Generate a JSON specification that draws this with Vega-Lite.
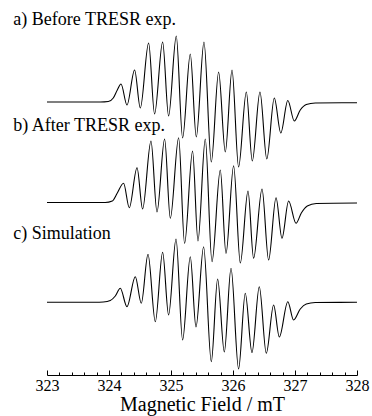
{
  "$schema": "https://vega.github.io/schema/vega-lite/v6.json",
  "width": 310,
  "height": 360,
  "autosize": "none",
  "padding": {"left": 47, "right": 15, "top": 15, "bottom": 41},
  "background": "white",
  "config": {"view": {"stroke": null}, "font": "Liberation Serif"},
  "datasets": {
    "spectra": [
      {"s":"a","B":323.000,"I":273},{"s":"a","B":323.860,"I":273},{"s":"a","B":323.989,"I":273.5},{"s":"a","B":324.069,"I":277},{"s":"a","B":324.134,"I":285},
      {"s":"a","B":324.194,"I":291},{"s":"a","B":324.290,"I":270},{"s":"a","B":324.413,"I":305},{"s":"a","B":324.505,"I":267},{"s":"a","B":324.639,"I":332},
      {"s":"a","B":324.735,"I":261},{"s":"a","B":324.865,"I":333},{"s":"a","B":324.961,"I":259},{"s":"a","B":325.085,"I":339},{"s":"a","B":325.187,"I":237},
      {"s":"a","B":325.311,"I":321},{"s":"a","B":325.408,"I":238},{"s":"a","B":325.532,"I":333},{"s":"a","B":325.650,"I":213},{"s":"a","B":325.768,"I":303},
      {"s":"a","B":325.876,"I":223},{"s":"a","B":325.984,"I":305},{"s":"a","B":326.090,"I":208},{"s":"a","B":326.215,"I":283},{"s":"a","B":326.311,"I":214},
      {"s":"a","B":326.435,"I":283},{"s":"a","B":326.545,"I":216},{"s":"a","B":326.666,"I":277},{"s":"a","B":326.771,"I":242},{"s":"a","B":326.884,"I":274.5},
      {"s":"a","B":326.989,"I":254},{"s":"a","B":327.085,"I":265},{"s":"a","B":327.182,"I":270.5},{"s":"a","B":327.327,"I":272},{"s":"a","B":328.000,"I":272.3},

      {"s":"b","B":323.000,"I":172.5},{"s":"b","B":323.940,"I":172.5},{"s":"b","B":324.053,"I":174},{"s":"b","B":324.134,"I":182},
      {"s":"b","B":324.235,"I":191.7},{"s":"b","B":324.327,"I":167.3},{"s":"b","B":324.452,"I":207.3},{"s":"b","B":324.542,"I":166},{"s":"b","B":324.677,"I":234},
      {"s":"b","B":324.774,"I":163},{"s":"b","B":324.897,"I":236},{"s":"b","B":324.989,"I":156.7},{"s":"b","B":325.123,"I":237.3},{"s":"b","B":325.219,"I":131.5},
      {"s":"b","B":325.348,"I":224},{"s":"b","B":325.435,"I":134},{"s":"b","B":325.553,"I":236},{"s":"b","B":325.661,"I":113.3},{"s":"b","B":325.795,"I":205},
      {"s":"b","B":325.887,"I":121.5},{"s":"b","B":326.010,"I":209.3},{"s":"b","B":326.118,"I":112},{"s":"b","B":326.242,"I":184},{"s":"b","B":326.332,"I":116.7},
      {"s":"b","B":326.468,"I":186},{"s":"b","B":326.574,"I":115},{"s":"b","B":326.694,"I":177.3},{"s":"b","B":326.790,"I":136.7},{"s":"b","B":326.897,"I":174},
      {"s":"b","B":327.016,"I":151.7},{"s":"b","B":327.102,"I":162},{"s":"b","B":327.198,"I":169},{"s":"b","B":327.344,"I":171.5},{"s":"b","B":328.000,"I":172},

      {"s":"c","B":323.000,"I":72.7},{"s":"c","B":323.779,"I":72.7},{"s":"c","B":323.908,"I":73},{"s":"c","B":324.021,"I":74.5},{"s":"c","B":324.102,"I":79},
      {"s":"c","B":324.182,"I":86.7},{"s":"c","B":324.290,"I":68.3},{"s":"c","B":324.424,"I":98.3},{"s":"c","B":324.521,"I":71.7},{"s":"c","B":324.629,"I":120.7},
      {"s":"c","B":324.747,"I":53.3},{"s":"c","B":324.865,"I":122.7},{"s":"c","B":324.961,"I":60},{"s":"c","B":325.081,"I":136},{"s":"c","B":325.187,"I":35},
      {"s":"c","B":325.311,"I":118.3},{"s":"c","B":325.403,"I":48},{"s":"c","B":325.526,"I":128.3},{"s":"c","B":325.650,"I":13.3},{"s":"c","B":325.752,"I":96},
      {"s":"c","B":325.860,"I":23},{"s":"c","B":325.968,"I":106.7},{"s":"c","B":326.090,"I":6},{"s":"c","B":326.198,"I":81.7},{"s":"c","B":326.306,"I":22.5},
      {"s":"c","B":326.424,"I":88.3},{"s":"c","B":326.537,"I":21.7},{"s":"c","B":326.655,"I":70},{"s":"c","B":326.747,"I":38},{"s":"c","B":326.884,"I":73.3},
      {"s":"c","B":326.977,"I":55},{"s":"c","B":327.085,"I":66},{"s":"c","B":327.182,"I":71},{"s":"c","B":327.327,"I":72.5},{"s":"c","B":328.000,"I":72.7}
    ],
    "labels": [
      {"B":322.456,"I":350,"label":"a) Before TRESR exp."},
      {"B":322.456,"I":244,"label":"b) After TRESR exp."},
      {"B":322.456,"I":136,"label":"c) Simulation"}
    ]
  },
  "layer": [
    {
      "data": {"name": "spectra"},
      "mark": {"type": "line", "interpolate": "monotone", "color": "black", "strokeWidth": 1.1, "clip": false},
      "encoding": {
        "x": {"field": "B", "type": "quantitative", "scale": {"domain": [323, 328], "nice": false, "zero": false},
          "axis": {"title": "Magnetic Field / mT", "values": [323, 324, 325, 326, 327, 328], "format": "d",
            "tickSize": -5, "tickColor": "black", "tickWidth": 1, "domainColor": "black", "domainWidth": 1,
            "labelFont": "Liberation Serif", "labelFontSize": 16, "labelColor": "black", "labelPadding": 7, "labelFlush": false,
            "titleFont": "Liberation Serif", "titleFontSize": 20, "titleFontWeight": "normal", "titleColor": "black", "titlePadding": 1, "grid": false, "orient": "bottom"}},
        "y": {"field": "I", "type": "quantitative", "scale": {"domain": [0, 360], "nice": false, "zero": false}, "axis": null},
        "detail": {"field": "s"}
      }
    },
    {
      "data": {"name": "labels"},
      "mark": {"type": "text", "align": "left", "baseline": "alphabetic", "font": "Liberation Serif", "fontSize": 18, "color": "black", "clip": false},
      "encoding": {
        "x": {"field": "B", "type": "quantitative", "scale": {"domain": [323, 328], "nice": false, "zero": false},
          "axis": {"orient": "bottom", "title": null, "labels": false, "domain": false, "grid": false,
            "values": [323.2, 323.4, 323.6, 323.8, 324.2, 324.4, 324.6, 324.8, 325.2, 325.4, 325.6, 325.8, 326.2, 326.4, 326.6, 326.8, 327.2, 327.4, 327.6, 327.8],
            "tickSize": -3, "tickColor": "black", "tickWidth": 1}},
        "y": {"field": "I", "type": "quantitative", "scale": {"domain": [0, 360], "nice": false, "zero": false}, "axis": null},
        "text": {"field": "label"}
      }
    }
  ],
  "resolve": {"axis": {"x": "independent"}}
}
